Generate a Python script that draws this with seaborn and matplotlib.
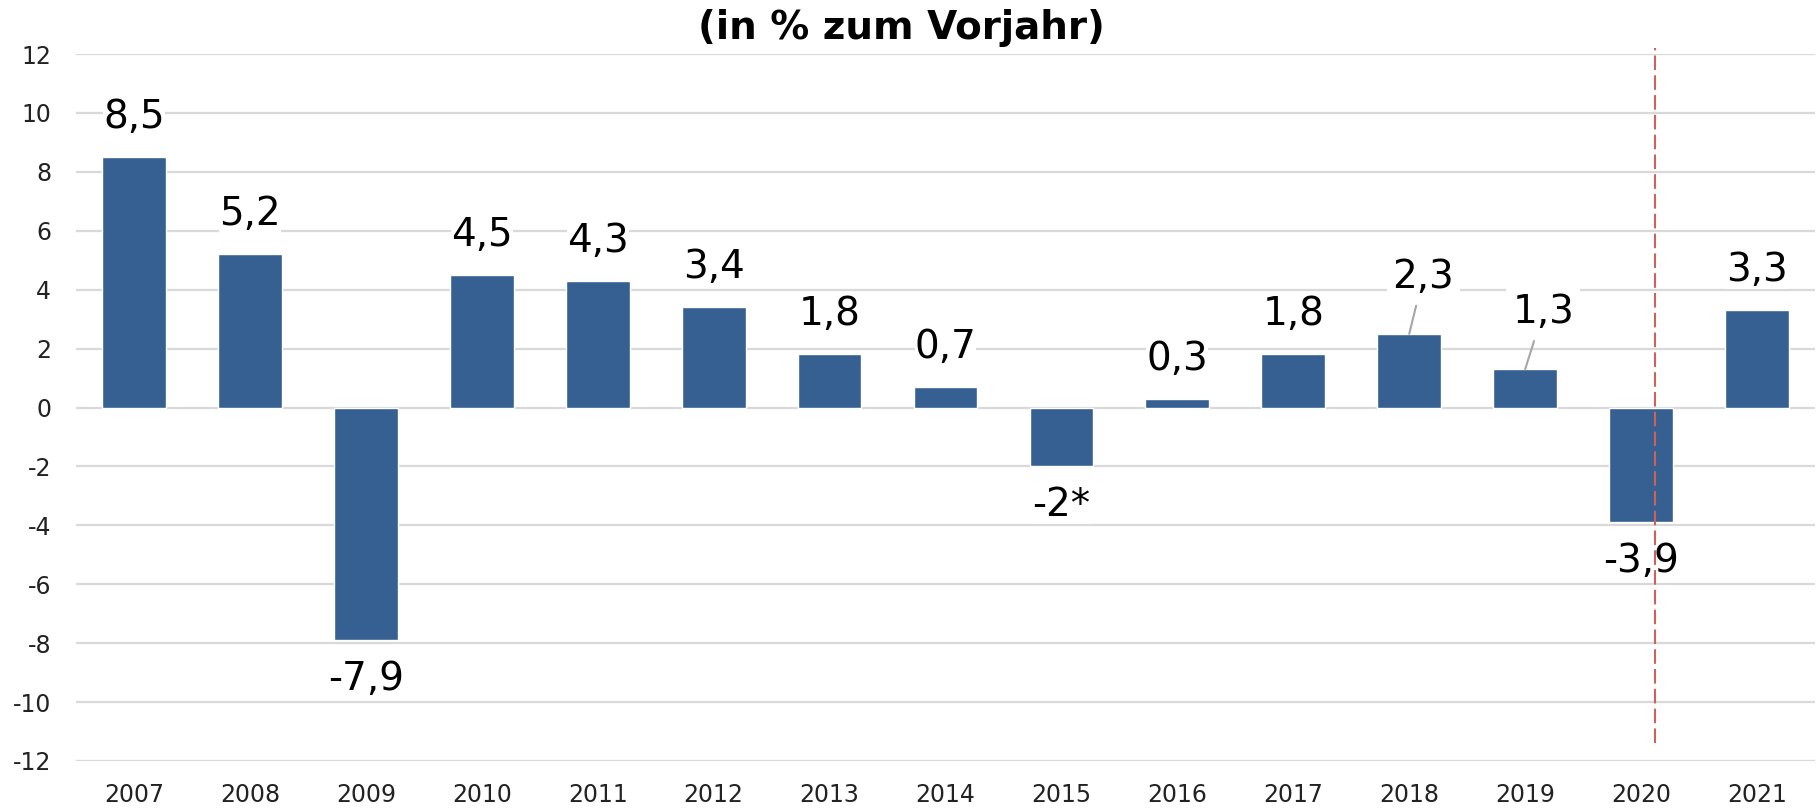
import matplotlib
matplotlib.use("Agg")
import matplotlib.pyplot as plt
import seaborn as sns
import pandas as pd

years = ["2007", "2008", "2009", "2010", "2011", "2012", "2013", "2014",
         "2015", "2016", "2017", "2018", "2019", "2020", "2021"]
values = [8.5, 5.2, -7.9, 4.5, 4.3, 3.4, 1.8, 0.7, -2.0, 0.3, 1.8, 2.5, 1.3, -3.9, 3.3]
labels = ["8,5", "5,2", "-7,9", "4,5", "4,3", "3,4", "1,8", "0,7", "-2*", "0,3",
          "1,8", "2,3", "1,3", "-3,9", "3,3"]
yticks = list(range(-12, 13, 2))
title = "(in % zum Vorjahr)"

sns.set_theme(style="white")
plt.rcParams['font.family'] = ['DejaVu Sans']

W, H = 1819, 809
fig = plt.figure(figsize=(W / 100, H / 100), dpi=100)
ax = fig.add_axes([76 / W, 1 - 761 / H, (1815 - 76) / W, (761 - 54) / H])

df = pd.DataFrame({"Jahr": years, "Wert": values})
sns.barplot(data=df, x="Jahr", y="Wert", color="#366091", saturation=1,
            width=0.55, ax=ax, zorder=2)

ax.set_ylim(-12, 12)
ax.set_xlim(-0.5, len(years) - 0.5)
ax.set_yticks(yticks)
ax.set_yticklabels([str(t) for t in yticks])
ax.grid(axis="y", color="#D9D9D9", linewidth=1.6, zorder=0)
ax.grid(axis="x", visible=False)
ax.set_axisbelow(True)
for s in ax.spines.values():
    s.set_visible(False)
ax.tick_params(axis="y", length=0, pad=18, labelsize=17, labelcolor="#222222")
ax.tick_params(axis="x", length=0, pad=16, labelsize=17, labelcolor="#222222")
ax.set_xlabel("")
ax.set_ylabel("")

bbox = dict(boxstyle="square,pad=0.0", fc="white", ec="none")
leader = {11: (14, 57), 12: (18, 57)}
for i, (v, lab) in enumerate(zip(values, labels)):
    if i in leader:
        dx, dy = leader[i]
        ax.annotate(lab, xy=(i, v), xytext=(dx, dy), textcoords="offset pixels",
                    ha="center", va="center", fontsize=28, color="black",
                    bbox=dict(boxstyle="square,pad=0.15", fc="white", ec="none"),
                    zorder=4,
                    arrowprops=dict(arrowstyle="-", color="#A6A6A6", lw=1.5,
                                    shrinkA=3, shrinkB=0))
    else:
        off = 40 if v >= 0 else -39
        ax.annotate(lab, xy=(i, v), xytext=(0, off), textcoords="offset pixels",
                    ha="center", va="center", fontsize=28, color="black",
                    bbox=bbox, zorder=4)

ax.vlines(13.12, -11.4, 12.2, colors="#D0605A", linestyles=(0, (7, 2.5)),
          linewidth=1.5, zorder=5, clip_on=False)

fig.text(901 / W, 1 - 28 / H, title, ha="center", va="center",
         fontsize=28, fontweight="bold", color="black")

fig.savefig("out.png", dpi=100)
